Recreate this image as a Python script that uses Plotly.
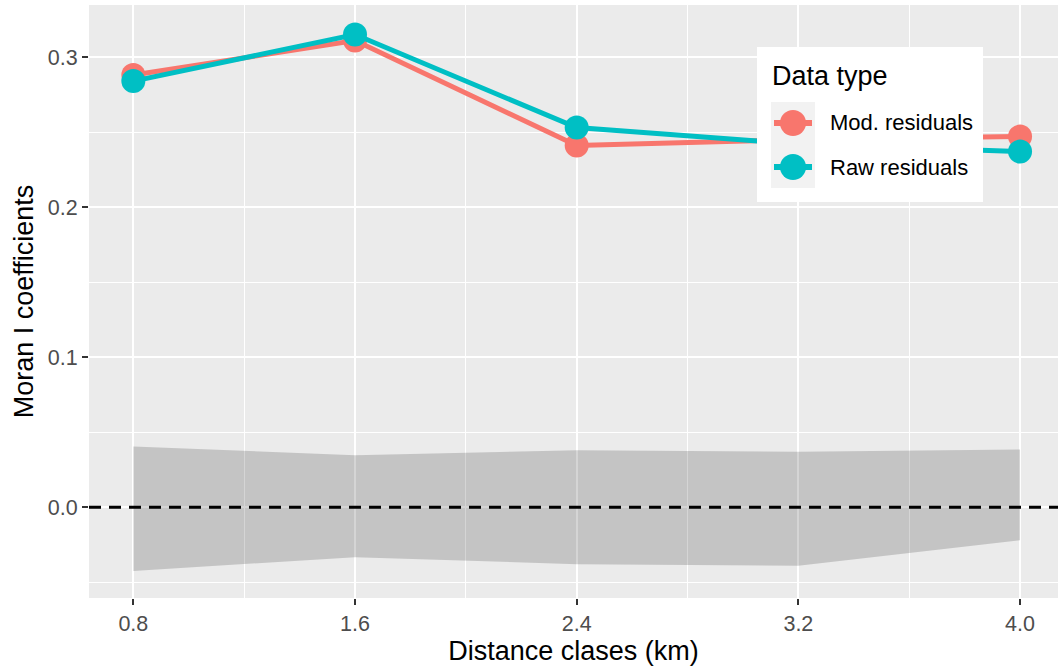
import plotly.graph_objects as go

# Distance classes (km)
distance = [0.8, 1.6, 2.4, 3.2, 4.0]

# Moran I coefficients per data type
mod_residuals = [0.288, 0.311, 0.241, 0.245, 0.247]
raw_residuals = [0.284, 0.315, 0.253, 0.242, 0.237]

# Null envelope (ribbon) bounds
envelope_upper = [0.0405, 0.0347, 0.038, 0.037, 0.0385]
envelope_lower = [-0.0425, -0.0333, -0.038, -0.039, -0.022]

y_ticks = [0.0, 0.1, 0.2, 0.3]
y_tick_labels = ["0.0", "0.1", "0.2", "0.3"]
x_tick_labels = ["0.8", "1.6", "2.4", "3.2", "4.0"]

series = [("Mod. residuals", mod_residuals, "#F8766D"),
          ("Raw residuals", raw_residuals, "#00BFC4")]

PANEL = "#EBEBEB"
FONT = "Liberation Sans, Arial, sans-serif"

W, H = 1058, 668
ML, MR, MT, MB = 89, 0, 5, 70
PW, PH = W - ML - MR, H - MT - MB


def px(x):
    """Pixel x -> paper x."""
    return (x - ML) / PW


def py(y):
    """Pixel y (from top) -> paper y."""
    return (H - MB - y) / PH


fig = go.Figure()

# Envelope ribbon
fig.add_trace(go.Scatter(
    x=distance + distance[::-1],
    y=envelope_upper + envelope_lower[::-1],
    fill="toself", fillcolor="rgba(0,0,0,0.165)",
    line=dict(width=0), mode="lines",
    hoverinfo="skip", showlegend=False,
))

for name, vals, col in series:
    fig.add_trace(go.Scatter(
        x=distance, y=vals, name=name, mode="lines+markers",
        line=dict(color=col, width=5),
        marker=dict(color=col, size=24),
        showlegend=False,
    ))

shapes = [
    # reference line at zero
    dict(type="line", xref="paper", yref="y", x0=0, x1=1, y0=0, y1=0,
         line=dict(color="black", width=3, dash="12px,8px"), layer="above"),
    # legend box and key background
    dict(type="rect", xref="paper", yref="paper", x0=px(757), x1=px(983),
         y0=py(202), y1=py(47), fillcolor="white", line=dict(width=0),
         layer="above"),
    dict(type="rect", xref="paper", yref="paper", x0=px(771), x1=px(815),
         y0=py(188), y1=py(102), fillcolor="#F2F2F2", line=dict(width=0),
         layer="above"),
]

annotations = [
    dict(text="Data type", xref="paper", yref="paper", x=px(770), y=py(76),
         xanchor="left", yanchor="middle", showarrow=False,
         font=dict(size=27, color="black", family=FONT)),
]

key_y = [123, 167]
for (name, vals, col), ky in zip(series, key_y):
    shapes.append(dict(type="line", xref="paper", yref="paper",
                       x0=px(774), x1=px(812), y0=py(ky), y1=py(ky),
                       line=dict(color=col, width=6), layer="above"))
    shapes.append(dict(type="circle", xref="paper", yref="paper",
                       x0=px(793 - 13), x1=px(793 + 13),
                       y0=py(ky + 13), y1=py(ky - 13),
                       fillcolor=col, line=dict(width=0), layer="above"))
    annotations.append(dict(text=name, xref="paper", yref="paper",
                            x=px(828), y=py(ky), xanchor="left",
                            yanchor="middle", showarrow=False,
                            font=dict(size=22, color="black", family=FONT)))

fig.update_layout(
    width=W, height=H,
    margin=dict(l=ML, r=MR, t=MT, b=MB),
    paper_bgcolor="white", plot_bgcolor=PANEL,
    font=dict(family=FONT, color="black"),
    shapes=shapes, annotations=annotations,
    showlegend=False,
    xaxis=dict(
        range=[0.64, 4.137], tickvals=distance, ticktext=x_tick_labels,
        showgrid=True, gridcolor="white", gridwidth=2,
        minor=dict(dtick=0.8, tick0=1.2, showgrid=True, gridcolor="white",
                   gridwidth=1),
        ticks="outside", ticklen=6, tickwidth=2, tickcolor="#333333",
        tickfont=dict(size=21.5, color="#4D4D4D"),
        title=dict(text="Distance clases (km)", font=dict(size=27), standoff=4),
        zeroline=False, showline=False,
    ),
    yaxis=dict(
        range=[-0.0605, 0.3347], tickvals=y_ticks, ticktext=y_tick_labels,
        showgrid=True, gridcolor="white", gridwidth=2,
        minor=dict(dtick=0.1, tick0=0.05, showgrid=True, gridcolor="white",
                   gridwidth=1),
        ticks="outside", ticklen=6, tickwidth=2, tickcolor="#333333",
        tickfont=dict(size=21.5, color="#4D4D4D"),
        title=dict(text="Moran I coefficients", font=dict(size=27), standoff=6),
        zeroline=False, showline=False,
    ),
)

fig.write_html("out.html")
